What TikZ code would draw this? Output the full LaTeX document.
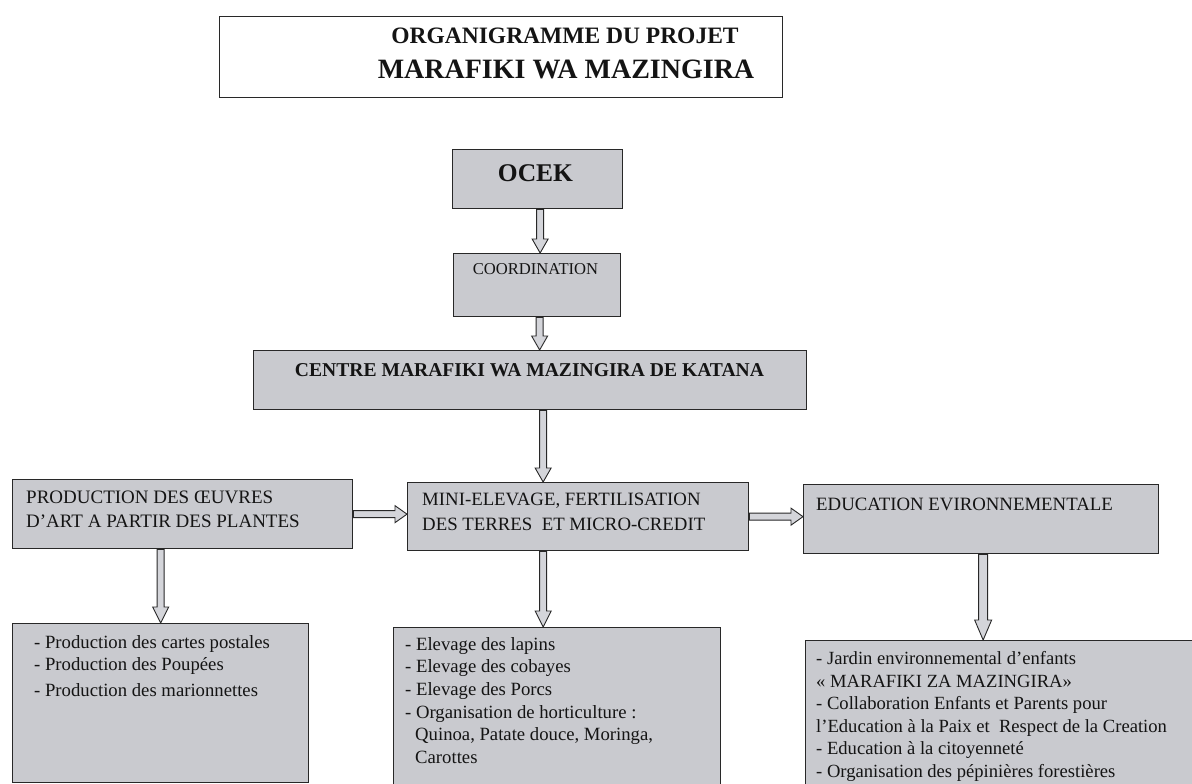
\documentclass[tikz,border=0pt]{standalone}
\usepackage{fontspec}
\setmainfont{Liberation Serif}
\usetikzlibrary{calc}
\definecolor{boxgray}{RGB}{201,202,207}
\definecolor{arrowgray}{RGB}{212,213,218}
\definecolor{edge}{RGB}{40,40,40}
\definecolor{ink}{RGB}{20,20,20}
\pgfkeys{/arr/.cd, sw/.initial=3.5pt, hw/.initial=8pt, hl/.initial=14pt}
\tikzset{
  box/.style={draw=edge, line width=1.3pt, fill=boxgray, inner sep=0pt, anchor=north west},
  titlebox/.style={draw=edge, line width=1.4pt, fill=white, inner sep=0pt, anchor=north west},
  lbl/.style={inner sep=0pt, anchor=base, text=ink},
  txt/.style={inner sep=0pt, anchor=north west, align=left, text=ink},
  atarr/.style={shift={(\p1)}, rotate=\n1},
  barrow/.style={draw=edge, line width=0.9pt, fill=arrowgray, line join=miter,
    to path={let \p1=(\tikztostart), \p2=(\tikztotarget),
      \n1={atan2(\y2-\y1,\x2-\x1)}, \n2={veclen(\x2-\x1,\y2-\y1)},
      \n3={\n2-\pgfkeysvalueof{/arr/hl}} in
      ([atarr]0pt,\pgfkeysvalueof{/arr/sw})
      -- ([atarr]\n3+0pt,\pgfkeysvalueof{/arr/sw})
      -- ([atarr]\n3+0pt,\pgfkeysvalueof{/arr/hw})
      -- ([atarr]\n2+0pt,0pt)
      -- ([atarr]\n3+0pt,-\pgfkeysvalueof{/arr/hw})
      -- ([atarr]\n3+0pt,-\pgfkeysvalueof{/arr/sw})
      -- ([atarr]0pt,-\pgfkeysvalueof{/arr/sw}) -- cycle}}
}
\begin{document}
\begin{tikzpicture}[x=1pt,y=-1pt]
\useasboundingbox (0,0) rectangle (1192,784);
\fill[white] (0,0) rectangle (1192,784);
\clip (0,0) rectangle (1192,784);

% title
\node[titlebox, minimum width=563pt, minimum height=81pt] (title) at (219,16) {};
\node[lbl, font=\bfseries\fontsize{23.5}{28}\selectfont] (t1) at (565,44) {ORGANIGRAMME DU PROJET};
\node[lbl, font=\bfseries\fontsize{28}{34}\selectfont] (t2) at (566,79) {MARAFIKI WA MAZINGIRA};

% boxes
\node[box, minimum width=170pt, minimum height=59pt] (ocek) at (452,149) {};
\node[lbl, font=\bfseries\fontsize{25.5}{30}\selectfont] (ocekt) at (535.5,181) {OCEK};

\node[box, minimum width=167pt, minimum height=63pt] (coord) at (453,253) {};
\node[lbl, font=\fontsize{16.6}{20}\selectfont] (coordt) at (535.5,274) {COORDINATION};

\node[box, minimum width=553pt, minimum height=59pt] (centre) at (253,350) {};
\node[lbl, font=\bfseries\fontsize{19.6}{24}\selectfont] (centret) at (529.5,376) {CENTRE MARAFIKI WA MAZINGIRA DE KATANA};

\node[box, minimum width=340pt, minimum height=69pt] (prod) at (12,479) {};
\node[txt, font=\fontsize{19}{24}\selectfont] (prodt) at (26,490.4) {PRODUCTION DES ŒUVRES\\D’ART A PARTIR DES PLANTES};

\node[box, minimum width=341pt, minimum height=68pt] (mini) at (407,482) {};
\node[txt, font=\fontsize{18.8}{25}\selectfont] (minit) at (422,492.6) {MINI-ELEVAGE, FERTILISATION\\DES TERRES\ \ ET MICRO-CREDIT};

\node[box, minimum width=355pt, minimum height=69pt] (edu) at (803,484) {};
\node[txt, font=\fontsize{18.8}{25}\selectfont] (edut) at (816,497.6) {EDUCATION EVIRONNEMENTALE};

\node[box, minimum width=296pt, minimum height=159pt] (bl) at (12,623) {};
\node[txt, font=\fontsize{18.7}{22}\selectfont] (blt) at (34,635.2) {- Production des cartes postales\\- Production des Poupées\\[4pt]- Production des marionnettes};

\node[box, minimum width=327pt, minimum height=170pt] (bm) at (393,627) {};
\node[txt, font=\fontsize{18.7}{22.6}\selectfont] (bmt) at (405,637.2) {- Elevage des lapins\\- Elevage des cobayes\\- Elevage des Porcs\\- Organisation de horticulture :\\\hspace*{10pt}Quinoa, Patate douce, Moringa,\\\hspace*{10pt}Carottes};

\node[box, minimum width=400pt, minimum height=160pt] (br) at (805,640) {};
\node[txt, font=\fontsize{18.6}{22.6}\selectfont] (brt) at (816,651.2) {- Jardin environnemental d’enfants\\« MARAFIKI ZA MAZINGIRA»\\- Collaboration Enfants et Parents pour\\l’Education à la Paix et\ \ Respect de la Creation\\- Education à la citoyenneté\\- Organisation des pépinières forestières};

% connectors
\draw[barrow] ([xshift=2.5pt]ocek.south) to ([xshift=2.5pt]ocek.south |- coord.north);
\draw[barrow] ([xshift=2.5pt]coord.south) to ([xshift=2.5pt]coord.south |- centre.north);
\draw[barrow] ([xshift=13pt]centre.south) to ([xshift=13pt]centre.south |- mini.north);
\draw[barrow, /arr/hw=8.5pt, /arr/hl=12pt] (prod.east) to (prod.east -| mini.west);
\draw[barrow, /arr/hw=8.5pt, /arr/hl=12pt] (mini.east) to (mini.east -| edu.west);
\draw[barrow, /arr/hl=16pt] (prod.south -| bl.north) to (bl.north);
\draw[barrow, /arr/hl=16pt] ([xshift=-35pt]mini.south) to ([xshift=-35pt]mini.south |- bm.north);
\draw[barrow, /arr/sw=4.5pt, /arr/hw=8.5pt, /arr/hl=20pt] ([xshift=2pt]edu.south) to ([xshift=2pt]edu.south |- br.north);
\end{tikzpicture}
\end{document}
